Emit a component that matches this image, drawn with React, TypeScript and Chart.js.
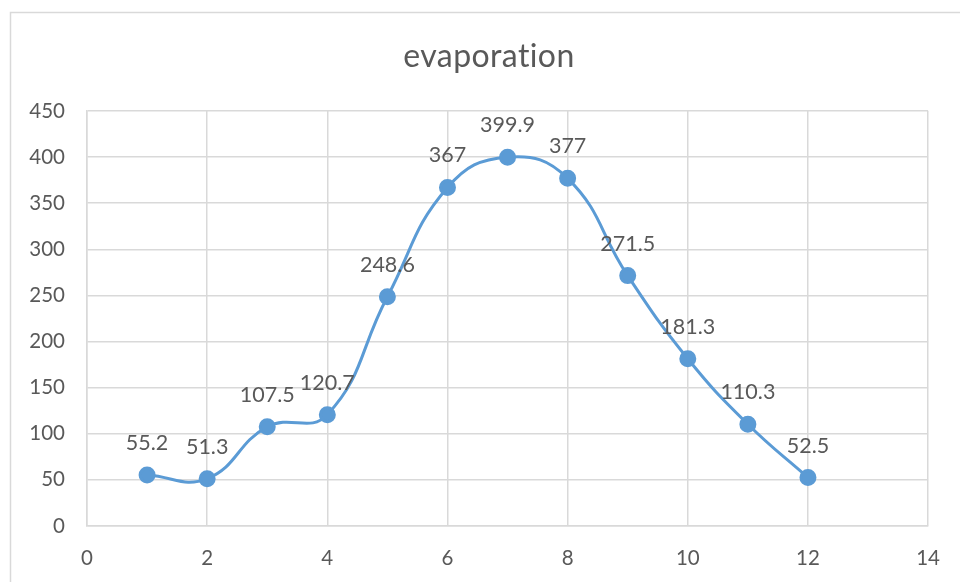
import React, { useEffect, useRef } from "react";
import { Chart, registerables } from "chart.js";

Chart.register(...registerables);

const months = [1, 2, 3, 4, 5, 6, 7, 8, 9, 10, 11, 12];
const evaporation = [55.2, 51.3, 107.5, 120.7, 248.6, 367, 399.9, 377, 271.5, 181.3, 110.3, 52.5];
const chartTitle = "evaporation";

const FONT = "Lato, 'Noto Sans', sans-serif";
const TEXT = "#595959";
const GRID = "#d9d9d9";
const LINE = "#5B9BD5";

const framePlugin = {
  id: "frame",
  beforeDraw(chart: any) {
    const ctx = chart.ctx;
    ctx.save();
    ctx.strokeStyle = GRID;
    ctx.lineWidth = 1.5;
    ctx.strokeRect(10.5, 12.5, chart.width + 20, chart.height + 20);
    ctx.restore();
  },
  afterDraw(chart: any) {
    const ctx = chart.ctx;
    ctx.save();
    ctx.font = `32px ${FONT}`;
    ctx.fillStyle = TEXT;
    ctx.textAlign = "center";
    ctx.textBaseline = "middle";
    try {
      (ctx as any).letterSpacing = "0.4px";
    } catch (e) {}
    ctx.fillText(chartTitle, 489, 57);
    ctx.restore();
  },
};

const labelPlugin = {
  id: "pointLabels",
  afterDatasetsDraw(chart: any) {
    const ctx = chart.ctx;
    const meta = chart.getDatasetMeta(0);
    ctx.save();
    ctx.font = `21.5px ${FONT}`;
    ctx.fillStyle = TEXT;
    ctx.textAlign = "center";
    ctx.textBaseline = "middle";
    meta.data.forEach((pt: any, i: number) => {
      ctx.fillText(String(evaporation[i]), pt.x, pt.y - 32);
    });
    ctx.restore();
  },
};

export default function App() {
  const ref = useRef<HTMLCanvasElement | null>(null);
  useEffect(() => {
    document.body.style.margin = "0";
    const chart = new Chart(ref.current as HTMLCanvasElement, {
      type: "line",
      data: {
        datasets: [
          {
            data: months.map((m, i) => ({ x: m, y: evaporation[i] })),
            borderColor: LINE,
            backgroundColor: LINE,
            borderWidth: 3,
            pointRadius: 7,
            pointHoverRadius: 7,
            pointBackgroundColor: LINE,
            pointBorderColor: LINE,
            tension: 0.45,
            fill: false,
          },
        ],
      },
      options: {
        animation: false,
        responsive: false,
        maintainAspectRatio: false,
        layout: { padding: { left: 0, right: 31, top: 0, bottom: 0 } },
        plugins: {
          legend: { display: false },
          tooltip: { enabled: false },
          title: {
            display: true,
            text: chartTitle,
            color: "rgba(0,0,0,0)",
            font: { family: FONT, size: 30, weight: "normal" },
            padding: { top: 38, bottom: 37 },
          },
        },
        scales: {
          x: {
            type: "linear",
            min: 0,
            max: 14,
            ticks: { stepSize: 2, color: TEXT, font: { family: FONT, size: 20.5 }, padding: 20 },
            grid: { color: GRID, lineWidth: 1.5, drawTicks: false },
            border: { color: GRID, width: 1.5 },
            afterFit(scale: any) {
              scale.height = 56;
            },
          },
          y: {
            min: 0,
            max: 450,
            ticks: { stepSize: 50, color: TEXT, font: { family: FONT, size: 20.5 }, padding: 22 },
            grid: { color: GRID, lineWidth: 1.5, drawTicks: false },
            border: { color: GRID, width: 1.5 },
            afterFit(scale: any) {
              scale.width = 87;
            },
          },
        },
      },
      plugins: [framePlugin, labelPlugin],
    });
    return () => chart.destroy();
  }, []);
  return (
    <div style={{ width: 960, height: 582, background: "#fff" }}>
      <canvas ref={ref} width={960} height={582} style={{ display: "block" }} />
    </div>
  );
}
